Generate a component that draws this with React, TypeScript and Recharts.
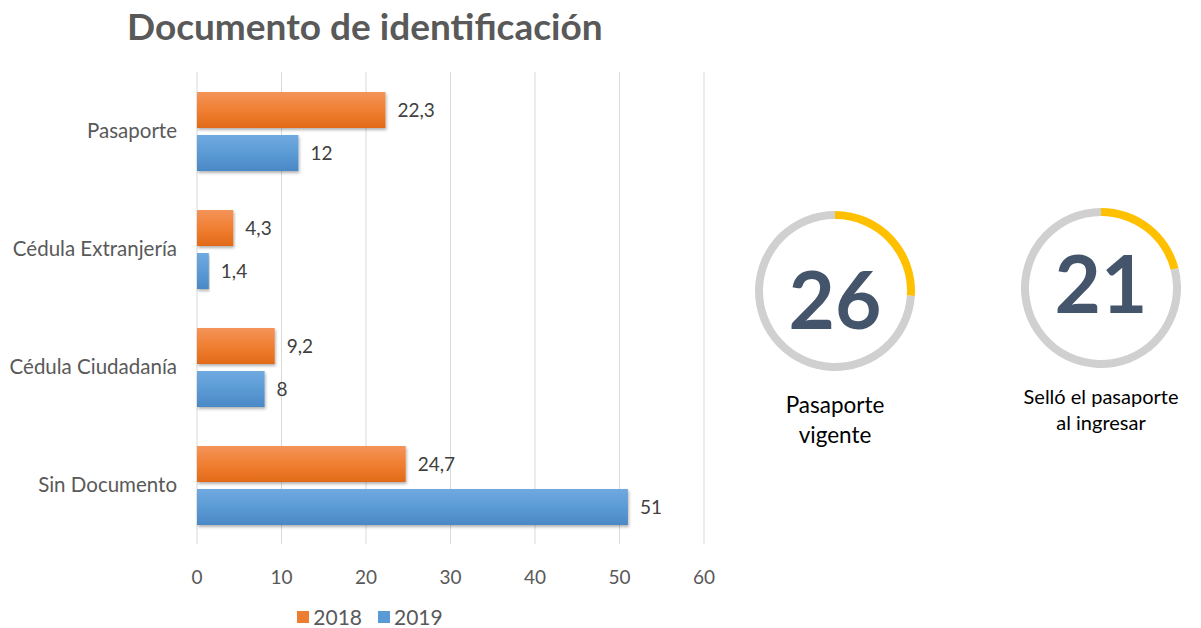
import React from "react";
import {
  BarChart,
  Bar,
  XAxis,
  YAxis,
  CartesianGrid,
  LabelList,
  Legend,
  PieChart,
  Pie,
  Cell,
  Label,
} from "recharts";

const categories = ["Pasaporte", "Cédula Extranjería", "Cédula Ciudadanía", "Sin Documento"];
const values2018 = [22.3, 4.3, 9.2, 24.7];
const values2019 = [12, 1.4, 8, 51];
const xTicks = [0, 10, 20, 30, 40, 50, 60];

const gaugeValues = [26, 21];
const gaugeCaptions = [
  ["Pasaporte", "vigente"],
  ["Selló el pasaporte", "al ingresar"],
];

const FONT = "Lato, 'Open Sans', sans-serif";
const TEXT = "#595959";

const data = categories.map((c, i) => ({
  name: c,
  y2018: values2018[i],
  y2019: values2019[i],
}));

const fmt = (v: any) => String(v).replace(".", ",");

function LegendBox() {
  const items = [
    { label: "2018", color: "#ED7D31" },
    { label: "2019", color: "#5B9BD5" },
  ];
  return (
    <div
      style={{
        display: "flex",
        justifyContent: "center",
        gap: 16,
        paddingTop: 16,
        paddingLeft: 36,
        fontFamily: FONT,
        fontSize: 21,
        lineHeight: "21px",
        color: TEXT,
      }}
    >
      {items.map((it) => (
        <div key={it.label} style={{ display: "flex", alignItems: "center", gap: 4 }}>
          <span style={{ width: 12, height: 12, background: it.color, display: "inline-block" }} />
          <span>{it.label}</span>
        </div>
      ))}
    </div>
  );
}

function Gauge({ value, caption, cx, cy, dy, fontSize, captionSize, captionTop, lineHeight }: any) {
  const pie = [
    { name: "v", value },
    { name: "rest", value: 100 - value },
  ];
  return (
    <div style={{ position: "absolute", left: cx - 90, top: cy - 90, width: 180 }}>
      <PieChart width={180} height={180} margin={{ top: 0, right: 0, bottom: 0, left: 0 }}>
        <Pie
          data={pie}
          dataKey="value"
          cx={90}
          cy={90}
          innerRadius={72}
          outerRadius={80}
          startAngle={90}
          endAngle={-270}
          stroke="none"
          isAnimationActive={false}
        >
          <Cell fill="#FFC000" />
          <Cell fill="#D0D0D0" />
          <Label
            value={String(value)}
            position="center"
            dy={dy}
            fill="#44546A"
            style={{ fontFamily: FONT, fontWeight: 700, fontSize }}
          />
        </Pie>
      </PieChart>
      <div
        style={{
          position: "absolute",
          top: captionTop,
          left: -30,
          width: 240,
          textAlign: "center",
          fontFamily: FONT,
          fontSize: captionSize,
          lineHeight,
          color: "#000",
        }}
      >
        {caption[0]}
        <br />
        {caption[1]}
      </div>
    </div>
  );
}

export default function App() {
  return (
    <div style={{ position: "fixed", left: 0, top: 0, width: 1201, height: 628, background: "#fff", overflow: "hidden" }}>
      <div
        style={{
          position: "absolute",
          left: 127,
          top: 3,
          fontFamily: FONT,
          fontWeight: 700,
          fontSize: 37,
          color: TEXT,
          whiteSpace: "nowrap",
        }}
      >
        Documento de identificación
      </div>
      <div style={{ position: "absolute", left: 0, top: 0 }}>
        <BarChart
          width={740}
          height={628}
          data={data}
          layout="vertical"
          margin={{ top: 72, right: 36, left: 0, bottom: 0 }}
          barSize={36}
          barGap={7}
        >
          <defs>
            <linearGradient id="g2018" x1="0" y1="0" x2="0" y2="1">
              <stop offset="0%" stopColor="#F4945A" />
              <stop offset="50%" stopColor="#F07F32" />
              <stop offset="100%" stopColor="#E26A18" />
            </linearGradient>
            <linearGradient id="g2019" x1="0" y1="0" x2="0" y2="1">
              <stop offset="0%" stopColor="#70A9E0" />
              <stop offset="50%" stopColor="#5B9BD5" />
              <stop offset="100%" stopColor="#4A88C6" />
            </linearGradient>
            <filter id="shadow" x="-5%" y="-10%" width="110%" height="140%">
              <feDropShadow dx="1" dy="2" stdDeviation="1.5" floodColor="#000" floodOpacity="0.3" />
            </filter>
          </defs>
          <CartesianGrid horizontal={false} stroke="#D9D9D9" />
          <XAxis
            type="number"
            domain={[0, 60]}
            ticks={xTicks}
            axisLine={false}
            tickLine={false}
            height={46}
            tickMargin={21}
            tick={{ fill: TEXT, fontSize: 19, fontFamily: FONT }}
          />
          <YAxis
            type="category"
            dataKey="name"
            width={197}
            axisLine={false}
            tickLine={false}
            tickMargin={14}
            tick={{ fill: TEXT, fontSize: 20.5, fontFamily: FONT }}
          />
          <Legend verticalAlign="bottom" height={38} content={() => <LegendBox />} />
          <Bar dataKey="y2018" name="2018" fill="url(#g2018)" filter="url(#shadow)" isAnimationActive={false}>
            <LabelList
              dataKey="y2018"
              position="right"
              offset={12}
              formatter={fmt}
              style={{ fill: "#404040", fontSize: 19, fontFamily: FONT }}
            />
          </Bar>
          <Bar dataKey="y2019" name="2019" fill="url(#g2019)" filter="url(#shadow)" isAnimationActive={false}>
            <LabelList
              dataKey="y2019"
              position="right"
              offset={12}
              formatter={fmt}
              style={{ fill: "#404040", fontSize: 19, fontFamily: FONT }}
            />
          </Bar>
        </BarChart>
      </div>
      <Gauge
        value={gaugeValues[0]}
        caption={gaugeCaptions[0]}
        cx={835}
        cy={291}
        dy={10}
        fontSize={80}
        captionSize={22.5}
        captionTop={189}
        lineHeight="30px"
      />
      <Gauge
        value={gaugeValues[1]}
        caption={gaugeCaptions[1]}
        cx={1101}
        cy={288}
        dy={-3}
        fontSize={80}
        captionSize={20}
        captionTop={185}
        lineHeight="26px"
      />
    </div>
  );
}
